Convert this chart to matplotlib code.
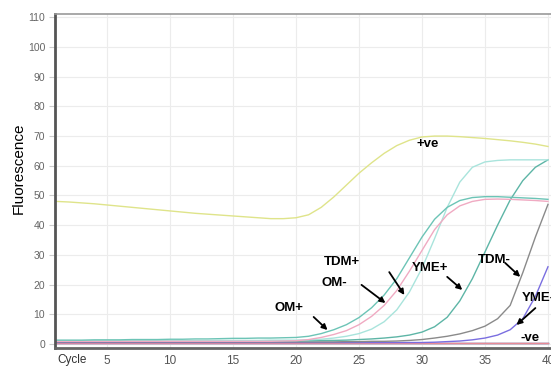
import matplotlib
matplotlib.use("Agg")
import matplotlib.pyplot as plt
import numpy as np

plt.rcParams['font.family'] = ['Liberation Sans', 'DejaVu Sans']

cycles = list(range(1, 41))

# +ve control
pos_ctrl = [48, 47.8, 47.5, 47.2, 46.8, 46.4, 46, 45.6, 45.2, 44.8,
            44.4, 44, 43.7, 43.4, 43.1, 42.8, 42.5, 42.2, 42.2, 42.5,
            43.5, 46, 49.5, 53.5, 57.5, 61, 64.2, 66.8, 68.6, 69.7,
            70, 70, 69.8, 69.5, 69.2, 68.8, 68.4, 67.9, 67.3, 66.5]
# OM+
om_pos = [1.3, 1.3, 1.3, 1.4, 1.4, 1.4, 1.5, 1.5, 1.5, 1.6,
          1.6, 1.7, 1.7, 1.8, 1.9, 1.9, 2.0, 2.0, 2.1, 2.2,
          2.6, 3.5, 4.8, 6.5, 8.9, 12.2, 16.5, 22, 29, 36,
          42, 46, 48.3, 49.3, 49.6, 49.6, 49.4, 49.2, 49, 48.7]
# OM-
om_neg = [0.9, 0.9, 0.9, 0.9, 0.9, 0.9, 0.9, 0.9, 0.9, 0.9,
          0.9, 0.9, 0.9, 0.9, 0.9, 0.9, 0.9, 0.9, 1.0, 1.1,
          1.5, 2.2, 3.2, 4.5, 6.5, 9.3, 13, 18, 24.5, 31.5,
          38.5, 43.5, 46.5, 48, 48.7, 48.8, 48.7, 48.5, 48.3, 48]
# TDM+
tdm_pos = [1.1, 1.1, 1.1, 1.1, 1.1, 1.1, 1.1, 1.1, 1.1, 1.1,
           1.1, 1.1, 1.1, 1.2, 1.2, 1.2, 1.2, 1.3, 1.3, 1.3,
           1.4, 1.6, 2, 2.6, 3.5, 5, 7.5, 11.5, 17.5, 25.5,
           35.5, 46, 54.5, 59.5, 61.3, 61.8, 62, 62, 62, 62]
# YME+
yme_pos = [1.0, 1.0, 1.0, 1.0, 1.0, 1.0, 1.0, 1.0, 1.0, 1.0,
           1.0, 1.0, 1.0, 1.0, 1.0, 1.0, 1.0, 1.0, 1.0, 1.1,
           1.1, 1.2, 1.2, 1.3, 1.5, 1.7, 2, 2.4, 3, 4,
           5.8, 9, 14.5, 22, 31, 40, 48.5, 55, 59.5, 62]
# TDM-
tdm_neg = [0.7, 0.7, 0.7, 0.7, 0.7, 0.7, 0.7, 0.7, 0.7, 0.7,
           0.7, 0.7, 0.7, 0.7, 0.7, 0.7, 0.7, 0.7, 0.7, 0.7,
           0.7, 0.7, 0.7, 0.8, 0.8, 0.9, 0.9, 1, 1.2, 1.5,
           2, 2.6, 3.4, 4.5, 6, 8.5, 13, 24, 36, 47]
# YME-
yme_neg = [0.5, 0.5, 0.5, 0.5, 0.5, 0.5, 0.5, 0.5, 0.5, 0.5,
           0.5, 0.5, 0.5, 0.5, 0.5, 0.5, 0.5, 0.5, 0.5, 0.5,
           0.5, 0.5, 0.5, 0.5, 0.5, 0.5, 0.5, 0.5, 0.5, 0.5,
           0.6, 0.8, 1, 1.4, 2, 3, 4.8, 8.5, 16, 26]
# -ve control
neg_ctrl = [0.5] * 40
blank = [0.4] * 40

series = [
    (pos_ctrl, '#dfe48a'),
    (blank, '#1f2a7a'),
    (neg_ctrl, '#e88a96'),
    (yme_neg, '#7a6ee0'),
    (tdm_neg, '#8a8a8a'),
    (yme_pos, '#5db5a6'),
    (tdm_pos, '#a9e4dc'),
    (om_neg, '#f0aac2'),
    (om_pos, '#6cc4b6'),
]

# label text, text position, arrow tip (None = no arrow)
labels = [
    ("+ve", (29.6, 67.5), None),
    ("OM+", (18.3, 12), (22.5, 4.7)),
    ("OM-", (22.0, 20.5), (27.1, 13.8)),
    ("TDM+", (22.2, 27.6), (28.6, 16.5)),
    ("YME+", (29.2, 25.5), (33.2, 18.2)),
    ("TDM-", (34.4, 28.3), (37.8, 22.6)),
    ("YME-", (37.9, 15.5), (37.5, 6.4)),
    ("-ve", (37.8, 2.0), None),
]
arrow_tails = {"OM+": (21.4, 9.1), "OM-": (25.2, 19.9), "TDM+": (27.4, 24.2),
               "YME+": (32.0, 22.6), "TDM-": (36.6, 27.3), "YME-": (39.0, 12.1)}

fig = plt.figure(figsize=(5.51, 3.67), dpi=100)
ax = fig.add_axes([55 / 551, 19 / 367, 496 / 551, 334 / 367])

for vals, col in series:
    ax.plot(cycles, vals, color=col, lw=1.0)

for name, (tx, ty), tip in labels:
    ax.text(tx, ty, name, fontsize=9.5, fontweight='bold', va='center', ha='left')
    if tip is not None:
        ax.annotate("", xy=tip, xytext=arrow_tails[name],
                    arrowprops=dict(arrowstyle='-|>', color='black', lw=1.3,
                                    mutation_scale=8, shrinkA=0, shrinkB=0))

ax.set_xlim(0.87, 40.24)
ax.set_ylim(-1.35, 111.1)
ax.set_xticks([5, 10, 15, 20, 25, 30, 35, 40])
ax.set_yticks(range(0, 111, 10))
ax.grid(True, color='#ececec', lw=0.8)
ax.set_axisbelow(True)
ax.tick_params(axis='y', labelsize=7.5, labelcolor='#666666', color='#cccccc', length=4, pad=3)
ax.tick_params(axis='x', labelsize=8.5, labelcolor='#555555', length=0, pad=5)

ax.spines['left'].set_color('#555555')
ax.spines['left'].set_linewidth(2)
ax.spines['bottom'].set_color('#666666')
ax.spines['bottom'].set_linewidth(2)
ax.spines['top'].set_color('#999999')
ax.spines['top'].set_linewidth(1.2)
ax.spines['right'].set_visible(False)

fig.text(19 / 551, 1 - 168 / 367, "Fluorescence", fontsize=11, rotation=90,
         va='center', ha='center')
fig.text(57 / 551, 1 - 360 / 367, "Cycle", fontsize=8.5, color='#333333', va='center', ha='left')

fig.savefig("out.png", dpi=100)
